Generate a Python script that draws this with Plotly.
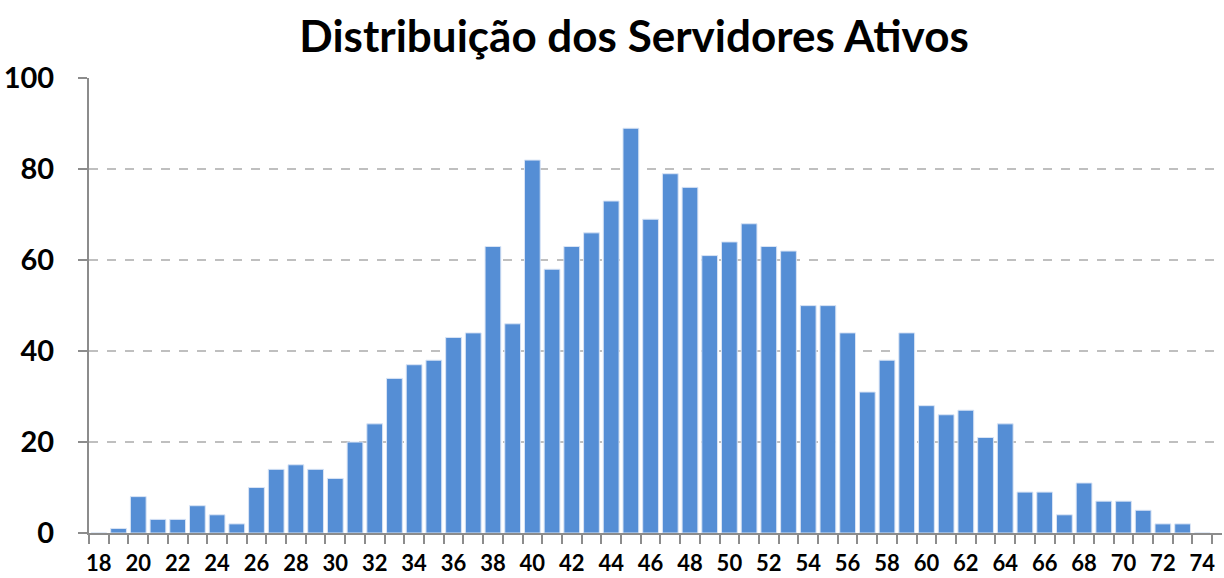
import plotly.graph_objects as go

idades = list(range(18, 75))
servidores = [0, 1, 8, 3, 3, 6, 4, 2, 10, 14, 15, 14, 12, 20, 24, 34, 37, 38, 43, 44,
              63, 46, 82, 58, 63, 66, 73, 89, 69, 79, 76, 61, 64, 68, 63, 62, 50, 50,
              44, 31, 38, 44, 28, 26, 27, 21, 24, 9, 9, 4, 11, 7, 7, 5, 2, 2, 0]
rotulos_x = list(range(18, 75, 2))
rotulos_y = [0, 20, 40, 60, 80, 100]

fig = go.Figure(go.Bar(
    x=idades, y=servidores,
    marker=dict(color="#558ED5", line=dict(color="#D9E4F5", width=1)),
    width=0.8,
))

font_family = "Lato, 'Open Sans', sans-serif"
fig.update_layout(
    width=1224, height=578,
    margin=dict(l=89, r=2, t=78, b=45, autoexpand=False),
    paper_bgcolor="white", plot_bgcolor="white",
    title=dict(text="<b>Distribuição dos Servidores Ativos</b>", x=0.518, xanchor="center",
               y=1 - 37 / 578, yanchor="middle",
               font=dict(family=font_family, size=44, color="black")),
    showlegend=False,
    bargap=0.2,
)
fig.update_xaxes(
    range=[17.5, 75.0], automargin=False,
    tickmode="array", tickvals=rotulos_x, ticktext=[f"<b>{v}</b>" for v in rotulos_x],
    ticks="", tickfont=dict(family=font_family, size=22, color="black"),
    ticklabelstandoff=10,
    minor=dict(tickmode="array", tickvals=[v - 0.5 for v in idades] + [74.5],
               ticks="outside", ticklen=9, tickcolor="#8C8C8C", tickwidth=2, showgrid=False),
    showline=True, linecolor="#8C8C8C", linewidth=2,
    showgrid=False, zeroline=False, fixedrange=True,
)
fig.update_yaxes(
    range=[0, 100.05], automargin=False,
    tickmode="array", tickvals=rotulos_y, ticktext=[f"<b>{v}</b>" for v in rotulos_y],
    ticks="outside", ticklen=9, tickcolor="#8C8C8C", tickwidth=2,
    ticklabelstandoff=18,
    tickfont=dict(family=font_family, size=29, color="black"),
    showline=True, linecolor="#8C8C8C", linewidth=2,
    showgrid=True, gridcolor="#BFBFBF", griddash="dash", gridwidth=1.5,
    zeroline=False,
)

fig.write_html("out.html", config={"displayModeBar": False},
               post_script="document.body.style.margin='0';document.body.style.overflow='hidden';")
